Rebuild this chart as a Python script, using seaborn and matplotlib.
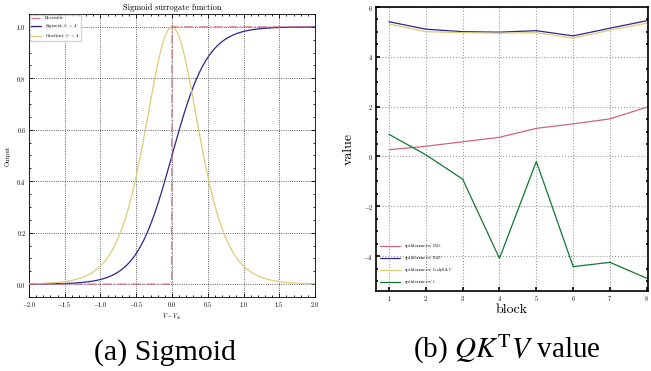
import numpy as np
import pandas as pd
import matplotlib
matplotlib.use("Agg")
import matplotlib.pyplot as plt
import seaborn as sns
from matplotlib.ticker import AutoMinorLocator, MultipleLocator

# data
alpha = 4
x_vals = np.linspace(-2, 2, 801)

blocks = [1, 2, 3, 4, 5, 6, 7, 8]
val_sma = [0.27, 0.41, 0.59, 0.77, 1.13, 1.31, 1.51, 1.98]
val_relu = [5.41, 5.11, 5.01, 4.99, 5.05, 4.84, 5.15, 5.45]
val_leaky = [5.32, 5.01, 4.97, 4.95, 4.97, 4.75, 5.07, 5.35]
val_one = [0.89, 0.07, -0.91, -4.09, -0.20, -4.42, -4.25, -4.89]

labels_b = [r"spikformer$_{\mathrm{w/\ SMA}}$", r"spikformer$_{\mathrm{w/\ ReLU}}$",
            r"spikformer$_{\mathrm{w/\ LeakyReLU}}$", r"spikformer$_{\mathrm{w/\ 1}}$"]
colors = ["#CC6677", "#332288", "#DDCC77", "#117733"]

sns.set_style("ticks")
plt.rcParams["font.family"] = "cmr10"
plt.rcParams["mathtext.fontset"] = "cm"
plt.rcParams["axes.formatter.use_mathtext"] = True
plt.rcParams["text.color"] = "black"
plt.rcParams["axes.labelcolor"] = "black"
plt.rcParams["xtick.color"] = "black"
plt.rcParams["ytick.color"] = "black"


def sci_ticks(ax, lw=0.6):
    ax.tick_params(which="both", direction="in", top=True, right=True,
                   labelsize=4.5, pad=2, width=lw)
    ax.tick_params(which="major", length=3)
    ax.tick_params(which="minor", length=1.5)
    ax.xaxis.set_minor_locator(AutoMinorLocator())
    ax.yaxis.set_minor_locator(AutoMinorLocator())
    for s in ax.spines.values():
        s.set_linewidth(lw)
        s.set_color("black")


fig = plt.figure(figsize=(6.51, 3.71), dpi=100)

# (a) Sigmoid surrogate
ax1 = fig.add_axes([0.0445, 0.1995, 0.4394, 0.7628])
sig = 1 / (1 + np.exp(-alpha * x_vals))
grad = alpha * sig * (1 - sig)
heav = (x_vals >= 0).astype(float)
df_a = pd.DataFrame({"x": x_vals, "heav": heav, "sig": sig, "grad": grad})

sns.lineplot(data=df_a, x="x", y="heav", ax=ax1, color=colors[0], lw=1.0,
             ls="-.", alpha=0.8, label="Heaviside", zorder=4)
sns.lineplot(data=df_a, x="x", y="sig", ax=ax1, color=colors[1], lw=0.9,
             label=r"Sigmoid, $\alpha$ = 4", zorder=3)
sns.lineplot(data=df_a, x="x", y="grad", ax=ax1, color=colors[2], lw=0.9,
             label=r"Gradient, $\alpha$ = 4", zorder=3)
ax1.set_xlim(-2, 2)
ax1.set_ylim(-0.05, 1.05)
ax1.xaxis.set_major_locator(MultipleLocator(0.5))
ax1.yaxis.set_major_locator(MultipleLocator(0.2))
ax1.xaxis.set_major_formatter(lambda v, p: f"${v:.1f}$")
ax1.yaxis.set_major_formatter(lambda v, p: f"${v:.1f}$")
ax1.grid(True, ls=":", color="black", lw=0.6, alpha=0.8)
sci_ticks(ax1, 0.6)
ax1.set_title("Sigmoid surrogate function", fontsize=6, pad=3)
ax1.set_xlabel(r"$V - V_{th}$", fontsize=4.5, labelpad=2)
ax1.set_ylabel("Output", fontsize=4.5, labelpad=4)
ax1.legend(loc="upper left", fontsize=3.3, frameon=True, fancybox=False,
           edgecolor="#cccccc", borderpad=0.3, handlelength=2.2,
           labelspacing=0.2, borderaxespad=0.2)

# (b) QK^T V value
ax2 = fig.add_axes([0.5776, 0.2156, 0.4178, 0.7655])
df_b = pd.DataFrame({"block": blocks * 4,
                     "value": val_sma + val_relu + val_leaky + val_one,
                     "model": sum([[l] * len(blocks) for l in labels_b], [])})
sns.lineplot(data=df_b, x="block", y="value", hue="model", palette=colors,
             hue_order=labels_b, ax=ax2, lw=0.9)
ax2.set_xlim(0.65, 8.03)
ax2.set_ylim(-5.4, 6)
ax2.xaxis.set_major_locator(MultipleLocator(1))
ax2.yaxis.set_major_locator(MultipleLocator(2))
ax2.grid(True, ls=":", color="#999999", lw=0.8)
sci_ticks(ax2, 1.2)
ax2.xaxis.set_minor_locator(plt.NullLocator())
ax2.tick_params(top=False, right=False)
ax2.set_xlabel("block", fontsize=10, labelpad=1)
ax2.set_ylabel("value", fontsize=10, labelpad=6)
ax2.legend(loc="lower left", fontsize=3.6, frameon=False, handlelength=4,
           labelspacing=0.35, borderaxespad=0.3)

# captions
fig.text(0.254, 0.0485, "(a) Sigmoid", ha="center", va="center", fontsize=21.5,
         family="Liberation Serif")
fig.text(0.778, 0.059, r"(b) $QK^{\mathrm{T}}V$ value", ha="center", va="center",
         fontsize=21, family="Liberation Serif", math_fontfamily="stix")

fig.savefig("out.png", dpi=100)
